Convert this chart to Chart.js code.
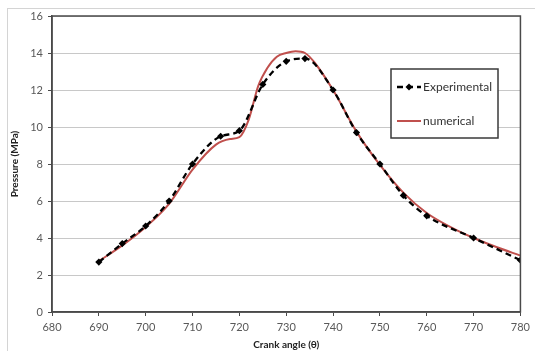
<!DOCTYPE html>
<html>
<head>
<meta charset="utf-8">
<script src="https://cdn.jsdelivr.net/npm/chart.js@4.4.1/dist/chart.umd.min.js"></script>
<style>
  html, body { margin: 0; padding: 0; background: #fff; overflow: hidden; }
  #frame { position: absolute; left: 7px; top: 8px; width: 600px; height: 400px; border: 1px solid #d4d4d4; }
  #wrap { position: absolute; left: 0; top: 0; width: 535px; height: 351px; }
</style>
</head>
<body>
<div id="frame"></div>
<div id="wrap"><canvas id="chart0" width="535" height="351"></canvas></div>
<script>
// crank angle (deg) and pressure (MPa)
var expAngle = [690, 695, 700, 705, 710, 716, 720, 725, 730, 734, 740, 745, 750, 755, 760, 770, 780];
var expPressure = [2.7, 3.7, 4.65, 6.0, 8.0, 9.5, 9.8, 12.3, 13.55, 13.7, 12.0, 9.7, 8.0, 6.3, 5.2, 4.0, 2.8];

var numAngle = [690, 695, 700, 705, 710, 715, 718, 720, 722, 724, 726, 728, 730, 732, 734, 736, 740, 745, 750, 755, 760, 765, 770, 775, 780];
var numPressure = [2.75, 3.6, 4.6, 5.85, 7.7, 9.05, 9.35, 9.45, 10.4, 12.2, 13.2, 13.8, 14.0, 14.1, 14.0, 13.5, 12.0, 9.75, 7.95, 6.45, 5.35, 4.6, 4.0, 3.5, 3.05];

var seriesNames = ["Experimental", "numerical"];
var xTitle = "Crank angle (\u03b8)";
var yTitle = "Pressure (MPa)";

function toPoints(xs, ys) {
    var pts = [];
    for (let i = 0; i < xs.length; i++) {
        pts.push({ x: xs[i], y: ys[i] });
    }
    return pts;
}

const FONT = "Lato, 'Open Sans', sans-serif";

// box around the plot area
const plotFrame = {
    id: 'plotFrame',
    afterDatasetsDraw(chart) {
        const a = chart.chartArea;
        const ctx = chart.ctx;
        ctx.save();
        ctx.strokeStyle = '#4a4a4a';
        ctx.lineWidth = 1.5;
        ctx.strokeRect(a.left, a.top, a.right - a.left, a.bottom - a.top);
        ctx.restore();
    }
};

// legend box sitting inside the plot
const boxLegend = {
    id: 'boxLegend',
    afterDraw(chart) {
        const ctx = chart.ctx;
        const ds = chart.data.datasets;
        const bx = 391, by = 69, bw = 107, bh = 69;
        ctx.save();
        ctx.fillStyle = '#fff';
        ctx.fillRect(bx, by, bw, bh);
        ctx.strokeStyle = '#3a3a3a';
        ctx.lineWidth = 1.5;
        ctx.strokeRect(bx, by, bw, bh);

        const rows = [87, 121];
        for (let i = 0; i < ds.length; i++) {
            const y = rows[i];
            ctx.strokeStyle = ds[i].borderColor;
            ctx.lineWidth = ds[i].borderWidth;
            ctx.setLineDash(ds[i].borderDash || []);
            ctx.beginPath();
            ctx.moveTo(397, y);
            ctx.lineTo(421, y);
            ctx.stroke();
            ctx.setLineDash([]);
            if (ds[i].pointRadius > 0) {
                ctx.fillStyle = ds[i].pointBackgroundColor;
                ctx.beginPath();
                ctx.moveTo(409, y - 3.5);
                ctx.lineTo(412.5, y);
                ctx.lineTo(409, y + 3.5);
                ctx.lineTo(405.5, y);
                ctx.closePath();
                ctx.fill();
            }
            ctx.fillStyle = '#333';
            ctx.font = "12px " + FONT;
            ctx.textBaseline = 'middle';
            ctx.fillText(ds[i].label, 423, y);
        }
        ctx.restore();
    }
};

const ctx = document.getElementById("chart0").getContext("2d");
var chartId = new Chart(ctx, {
    type: 'scatter',
    data: {
        datasets: [{
            label: seriesNames[0],
            data: toPoints(expAngle, expPressure),
            showLine: true,
            borderColor: '#000',
            borderWidth: 2.3,
            borderDash: [6, 4],
            pointStyle: 'rectRot',
            pointRadius: 3.6,
            pointBackgroundColor: '#000',
            pointBorderColor: '#000',
            pointBorderWidth: 0,
            cubicInterpolationMode: 'monotone',
            order: 1
        }, {
            label: seriesNames[1],
            data: toPoints(numAngle, numPressure),
            showLine: true,
            borderColor: '#c0504d',
            borderWidth: 2,
            pointRadius: 0,
            cubicInterpolationMode: 'monotone',
            order: 2
        }]
    },
    options: {
        responsive: false,
        animation: false,
        layout: {
            padding: { left: 0, top: 16, right: 10, bottom: 0 }
        },
        scales: {
            x: {
                type: 'linear',
                min: 680,
                max: 780,
                afterFit: function (s) { s.height = 39; },
                ticks: {
                    stepSize: 10,
                    padding: 5,
                    color: '#595959',
                    font: { family: FONT, size: 11 }
                },
                grid: {
                    drawOnChartArea: false,
                    drawTicks: true,
                    tickLength: 4,
                    tickColor: '#4a4a4a'
                },
                border: { color: '#4a4a4a', width: 1.5 },
                title: {
                    display: true,
                    text: xTitle,
                    color: '#222',
                    padding: { top: 0, bottom: 0 },
                    font: { family: FONT, size: 10, weight: 'bold' }
                }
            },
            y: {
                min: 0,
                max: 16,
                afterFit: function (s) { s.width = 52; },
                ticks: {
                    stepSize: 2,
                    padding: 5,
                    color: '#595959',
                    font: { family: FONT, size: 11 }
                },
                grid: {
                    color: '#c8c8c8',
                    lineWidth: 1,
                    drawTicks: true,
                    tickLength: 4,
                    tickColor: '#4a4a4a'
                },
                border: { color: '#4a4a4a', width: 1.5 },
                title: {
                    display: true,
                    text: yTitle,
                    color: '#222',
                    padding: { top: 9, bottom: 0 },
                    font: { family: FONT, size: 10, weight: 'bold' }
                }
            }
        },
        plugins: {
            legend: { display: false },
            tooltip: { enabled: false }
        }
    },
    plugins: [plotFrame, boxLegend]
});
</script>
</body>
</html>
